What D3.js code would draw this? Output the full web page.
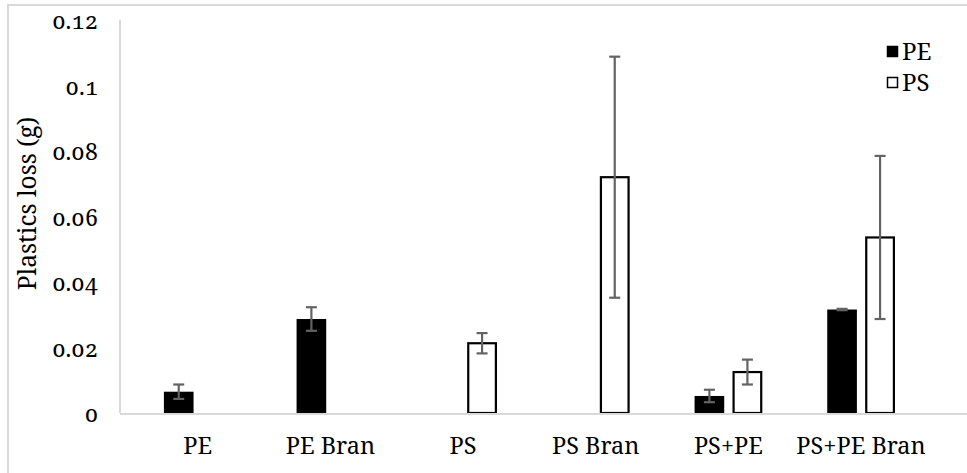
<!DOCTYPE html>
<html>
<head>
<meta charset="utf-8">
<script src="https://cdn.jsdelivr.net/npm/d3@7"></script>
<style>
  html, body { margin: 0; padding: 0; background: #fff; }
  svg { display: block; }
</style>
</head>
<body>
<svg id="chart" width="967" height="473"></svg>
<script>
const categories = ["PE", "PE Bran", "PS", "PS Bran", "PS+PE", "PS+PE Bran"];
const seriesNames = ["PE", "PS"];
const peValues = [0.0065, 0.0287, null, null, 0.0052, 0.0316];
const peErrors = [0.0022, 0.0036, null, null, 0.0019, 0.0002];
const psValues = [null, null, 0.0213, 0.0720, 0.0125, 0.0536];
const psErrors = [null, null, 0.0031, 0.0368, 0.0038, 0.0249];
const yTicks = [0, 0.02, 0.04, 0.06, 0.08, 0.1, 0.12];
const yTickLabels = ["0", "0.02", "0.04", "0.06", "0.08", "0.1", "0.12"];
const yTitle = "Plastics loss (g)";

const FONT = "'Noto Serif', 'Liberation Serif', serif";
const svg = d3.select("#chart");
function styleText(sel, size) {
  return sel.attr("font-family", FONT).attr("font-size", size)
    .style("font-variant-numeric", "oldstyle-nums").attr("fill", "#000");
}

// outer frame
svg.append("rect").attr("x", 8).attr("y", 5).attr("width", 970).attr("height", 480)
  .attr("fill", "none").attr("stroke", "#d9d9d9").attr("stroke-width", 2);

const plotTop = 20, plotBottom = 413, axisX = 120;
const x0 = d3.scaleBand().domain(categories).range([131.4, 927.4])
  .paddingInner(0.49).paddingOuter(0.245);
const x1 = d3.scaleBand().domain(seriesNames).range([0, x0.bandwidth()]).paddingInner(0.22);
const y = d3.scaleLinear().domain([0, 0.12]).range([plotBottom, plotTop]);

// y axis line
svg.append("line").attr("x1", axisX).attr("x2", axisX).attr("y1", plotTop).attr("y2", plotBottom)
  .attr("stroke", "#d9d9d9").attr("stroke-width", 2);

// y tick labels
const yAxis = d3.axisLeft(y).tickValues(yTicks).tickSize(0).tickPadding(0)
  .tickFormat((d, i) => yTickLabels[i]);
const gy = svg.append("g").attr("transform", `translate(98,0)`).call(yAxis);
gy.select(".domain").remove();
styleText(gy.selectAll("text"), 23).attr("dy", 8.5);
gy.attr("font-family", null).attr("font-size", null);

// bars
const rows = categories.map((c, i) => ({
  cat: c,
  items: [
    { s: "PE", v: peValues[i], e: peErrors[i] },
    { s: "PS", v: psValues[i], e: psErrors[i] }
  ].filter(d => d.v != null)
}));

const groups = svg.append("g").selectAll("g.grp").data(rows).join("g").attr("class", "grp")
  .attr("transform", d => `translate(${x0(d.cat)},0)`);

groups.selectAll("rect").data(d => d.items).join("rect")
  .attr("x", d => x1(d.s) + (d.s === "PS" ? 1 : 0))
  .attr("width", d => x1.bandwidth() - (d.s === "PS" ? 2 : 0))
  .attr("y", d => y(d.v))
  .attr("height", d => y(0) - y(d.v))
  .attr("fill", d => d.s === "PE" ? "#000" : "#fff")
  .attr("stroke", d => d.s === "PS" ? "#000" : "none")
  .attr("stroke-width", 2.2);

// baseline
svg.append("line").attr("x1", axisX).attr("x2", 967).attr("y1", plotBottom + 1).attr("y2", plotBottom + 1)
  .attr("stroke", "#d9d9d9").attr("stroke-width", 2);

// error bars
const eb = groups.selectAll("g.err").data(d => d.items).join("g").attr("class", "err")
  .attr("stroke", "#636363").attr("stroke-width", 2.2);
eb.append("line")
  .attr("x1", d => x1(d.s) + x1.bandwidth() / 2).attr("x2", d => x1(d.s) + x1.bandwidth() / 2)
  .attr("y1", d => y(d.v + d.e)).attr("y2", d => y(d.v - d.e));
[1, -1].forEach(sign => {
  eb.append("line")
    .attr("x1", d => x1(d.s) + x1.bandwidth() / 2 - 5.5).attr("x2", d => x1(d.s) + x1.bandwidth() / 2 + 5.5)
    .attr("y1", d => y(d.v + sign * d.e)).attr("y2", d => y(d.v + sign * d.e));
});

// x labels
styleText(svg.append("g").selectAll("text").data(categories).join("text")
  .attr("x", d => x0(d) + x0.bandwidth() / 2).attr("y", 454)
  .attr("text-anchor", "middle"), 23.5).text(d => d);

// y title
styleText(svg.append("text").attr("transform", "translate(36,203.5) rotate(-90)")
  .attr("text-anchor", "middle"), 24.5).text(yTitle);

// legend
const legend = svg.append("g");
seriesNames.forEach((s, i) => {
  const ly = 52 + i * 31;
  legend.append("rect").attr("x", 887.5).attr("y", ly - 5.5).attr("width", 10).attr("height", 10)
    .attr("fill", s === "PE" ? "#000" : "#fff").attr("stroke", "#000").attr("stroke-width", 1.5);
  styleText(legend.append("text").attr("x", 902).attr("y", ly + 8), 24).text(s);
});
</script>
</body>
</html>
